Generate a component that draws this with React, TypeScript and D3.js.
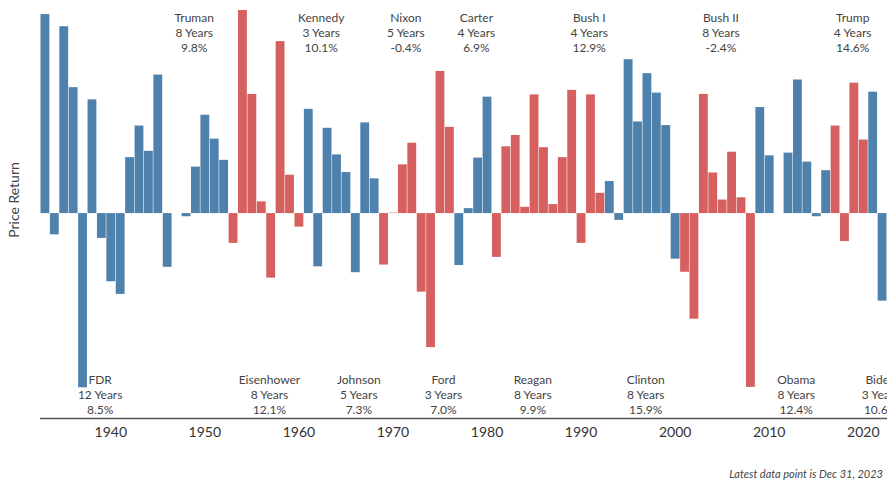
import React, { useEffect } from "react";
import * as d3 from "d3";

const years: number[] = d3.range(1933, 2024);
const returns: number[] = [
  44.1, -4.7, 41.4, 27.9, -38.6, 25.2, -5.5, -15.1, -17.9, 12.4, 19.4, 13.8,
  30.7, -11.9, 0.0, -0.7, 10.3, 21.8, 16.5, 11.8,
  -6.6, 45.0, 26.4, 2.6, -14.3, 38.1, 8.5, -3.0,
  23.1, -11.8, 18.9,
  13.0, 9.1, -13.1, 20.1, 7.7,
  -11.4, 0.1, 10.8, 15.6, -17.4,
  -29.7, 31.5, 19.1,
  -11.5, 1.1, 12.3, 25.8,
  -9.7, 14.8, 17.3, 1.4, 26.3, 14.6, 2.0, 12.4,
  27.3, -6.6, 26.3, 4.5,
  7.1, -1.5, 34.1, 20.3, 31.0, 26.7, 19.5, -10.1,
  -13.0, -23.4, 26.4, 9.0, 3.0, 13.6, 3.5, -38.5,
  23.5, 12.8, 0.0, 13.4, 29.6, 11.4, -0.7, 9.5,
  19.4, -6.2, 28.9, 16.3,
  26.9, -19.4, 24.2,
];

const presidents: string[] = ["FDR", "Truman", "Eisenhower", "Kennedy", "Johnson", "Nixon", "Ford", "Carter", "Reagan", "Bush I", "Clinton", "Bush II", "Obama", "Trump", "Biden"];
const termStart: number[] = [1933, 1945, 1953, 1961, 1964, 1969, 1974, 1977, 1981, 1989, 1993, 2001, 2009, 2017, 2021];
const termEnd: number[] = [1944, 1952, 1960, 1963, 1968, 1973, 1976, 1980, 1988, 1992, 2000, 2008, 2016, 2020, 2023];
const termYears: string[] = ["12 Years", "8 Years", "8 Years", "3 Years", "5 Years", "5 Years", "3 Years", "4 Years", "8 Years", "4 Years", "8 Years", "8 Years", "8 Years", "4 Years", "3 Years"];
const termAvg: string[] = ["8.5%", "9.8%", "12.1%", "10.1%", "7.3%", "-0.4%", "7.0%", "6.9%", "9.9%", "12.9%", "15.9%", "-2.4%", "12.4%", "14.6%", "10.6%"];
const party: string[] = ["D", "D", "R", "D", "D", "R", "R", "D", "R", "R", "D", "R", "D", "R", "D"];
const labelTop: boolean[] = [false, true, false, true, false, true, false, true, false, true, false, true, false, true, false];
const tickYears: number[] = [1940, 1950, 1960, 1970, 1980, 1990, 2000, 2010, 2020];

const W = 887;
const H = 483;
const BLUE = "#4f81ad";
const RED = "#d5605f";
const FONT = "Lato, 'Open Sans', sans-serif";

export default function App() {
  useEffect(() => {
    document.body.style.margin = "0";
    document.body.style.overflow = "hidden";
  }, []);

  const x = d3.scaleBand<number>().domain(years).range([40.5, 40.5 + 91 * 9.4]).paddingInner(0.06);
  const y = d3.scaleLinear().domain([-38.6, 45]).range([387.3, 10]);
  const y0 = y(0);

  const partyOf = (yr: number) => {
    const i = termStart.findIndex((s, k) => yr >= s && yr <= termEnd[k]);
    return party[i];
  };

  const cx = (yr: number) => (x(yr) as number) + x.bandwidth() / 2;

  return (
    <svg width={W} height={H} style={{ display: "block", background: "#fff" }} fontFamily={FONT}>
      {years.map((yr, i) => {
        const v = returns[i];
        const top = Math.min(y(v), y0);
        const h = Math.abs(y(v) - y0);
        return (
          <rect
            key={yr}
            x={x(yr)}
            y={top}
            width={x.bandwidth()}
            height={Math.max(h, 0)}
            fill={partyOf(yr) === "R" ? RED : BLUE}
          />
        );
      })}
      <line x1={40} x2={W} y1={418.5} y2={418.5} stroke="#555" strokeWidth={1.5} />
      {tickYears.map((t) => (
        <text key={t} x={cx(t)} y={437} textAnchor="middle" fontSize={14} fill="#333">
          {t}
        </text>
      ))}
      {presidents.map((p, i) => {
        const last = i === presidents.length - 1;
        const mid = (cx(termStart[i]) + cx(termEnd[i])) / 2 + (last ? -1.5 : 3.5);
        const base = labelTop[i] ? 22 : 384;
        return (
          <text key={p} x={mid} textAnchor="middle" fontSize={12} fill="#444">
            <tspan x={mid} y={base}>{p}</tspan>
            <tspan x={mid} y={base + 15}>{termYears[i]}</tspan>
            <tspan x={mid} y={base + 30}>{termAvg[i]}</tspan>
          </text>
        );
      })}
      <text transform={`translate(19,200) rotate(-90)`} textAnchor="middle" fontSize={14} fill="#444">
        Price Return
      </text>
      <text x={883} y={478} textAnchor="end" fontSize={11} fontStyle="italic" fill="#444">
        Latest data point is Dec 31, 2023
      </text>
    </svg>
  );
}
